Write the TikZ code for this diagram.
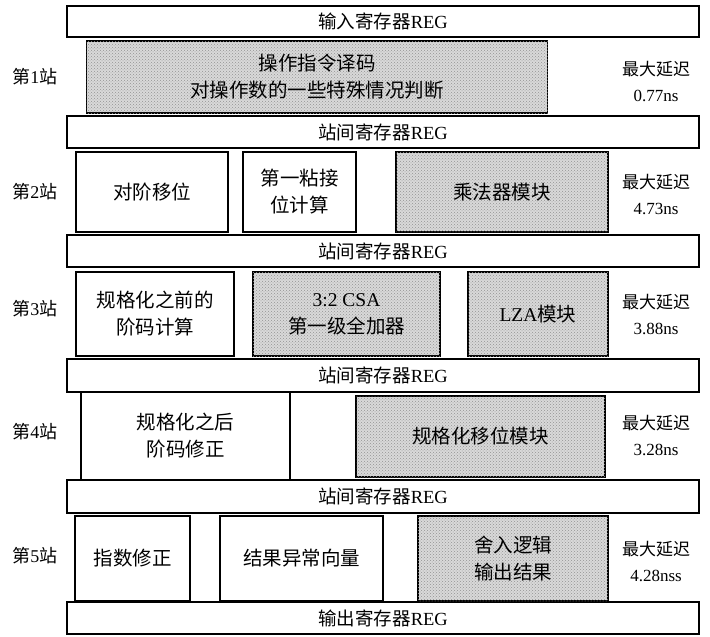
\documentclass[tikz,border=0pt]{standalone}
\usepackage{fontspec}
\setmainfont{Liberation Serif}
\newfontfamily\cjk{Noto Sans CJK SC}
\usetikzlibrary{patterns}
\begin{document}
\begin{tikzpicture}[x=1pt,y=-1pt,
  every node/.style={inner sep=0pt,outer sep=0pt,align=center},
  boxtext/.style={font=\fontsize{19.5}{27}\selectfont},
  wbox/.style={draw,line width=1.5pt,boxtext},
  gbox/.style={draw,line width=1.7pt,boxtext,fill=gray!30,postaction={pattern=crosshatch dots,pattern color=gray!85}},
  regbox/.style={draw,line width=1.5pt,minimum width=632pt,font=\fontsize{18.5}{24}\selectfont},
  lbl/.style={font=\fontsize{18}{26}\selectfont},
  dly/.style={font=\fontsize{17}{26}\selectfont}]
\useasboundingbox (0,0) rectangle (710,637);
% registers
\node[regbox,minimum height=31pt] (r0) at (383,21.5) {{\cjk 输入寄存器}REG};
\node[regbox,minimum height=32pt] (r1) at (383,132) {{\cjk 站间寄存器}REG};
\node[regbox,minimum height=32pt] (r2) at (383,251) {{\cjk 站间寄存器}REG};
\node[regbox,minimum height=33pt] (r3) at (383,375.5) {{\cjk 站间寄存器}REG};
\node[regbox,minimum height=33pt] (r4) at (383,496.5) {{\cjk 站间寄存器}REG};
\node[regbox,minimum height=32pt] (r5) at (383,618) {{\cjk 输出寄存器}REG};
% stage 1
\node[gbox,minimum width=461pt,minimum height=72pt] (b11) at (317,77) {\cjk 操作指令译码\\\cjk 对操作数的一些特殊情况判断};
% stage 2
\node[wbox,minimum width=152pt,minimum height=80pt] (b21) at (152,192) {\cjk 对阶移位};
\node[wbox,minimum width=113pt,minimum height=80pt] (b22) at (299.5,192) {\cjk 第一粘接\\\cjk 位计算};
\node[gbox,minimum width=212pt,minimum height=80pt] (b23) at (502,192) {\cjk 乘法器模块};
% stage 3
\node[wbox,minimum width=158pt,minimum height=84pt] (b31) at (155,314) {\cjk 规格化之前的\\\cjk 阶码计算};
\node[gbox,minimum width=187pt,minimum height=84pt] (b32) at (346.5,314) {3:2 CSA\\\cjk 第一级全加器};
\node[gbox,minimum width=140pt,minimum height=84pt] (b33) at (538,314) {LZA{\cjk 模块}};
% stage 4
\node[wbox,minimum width=209pt,minimum height=88pt] (b41) at (185.5,436) {\cjk 规格化之后\\\cjk 阶码修正};
\node[gbox,minimum width=249pt,minimum height=81pt] (b42) at (480.5,436.5) {\cjk 规格化移位模块};
% stage 5
\node[wbox,minimum width=115pt,minimum height=85pt] (b51) at (132.5,558.5) {\cjk 指数修正};
\node[wbox,minimum width=163pt,minimum height=85pt] (b52) at (301.5,558.5) {\cjk 结果异常向量};
\node[gbox,minimum width=190pt,minimum height=85pt] (b53) at (513,558.5) {\cjk 舍入逻辑\\\cjk 输出结果};
% stage labels
\node[lbl] (s1) at (35,77) {{\cjk 第}1{\cjk 站}};
\node[lbl] (s2) at (35,192) {{\cjk 第}2{\cjk 站}};
\node[lbl] (s3) at (35,309) {{\cjk 第}3{\cjk 站}};
\node[lbl] (s4) at (35,432) {{\cjk 第}4{\cjk 站}};
\node[lbl] (s5) at (35,556) {{\cjk 第}5{\cjk 站}};
% delays
\node[dly] (d1) at (656,81) {{\cjk 最大延迟}\\0.77ns};
\node[dly] (d2) at (656,194) {{\cjk 最大延迟}\\4.73ns};
\node[dly] (d3) at (656,314) {{\cjk 最大延迟}\\3.88ns};
\node[dly] (d4) at (656,435) {{\cjk 最大延迟}\\3.28ns};
\node[dly] (d5) at (656,561) {{\cjk 最大延迟}\\4.28nss};
\end{tikzpicture}
\end{document}
